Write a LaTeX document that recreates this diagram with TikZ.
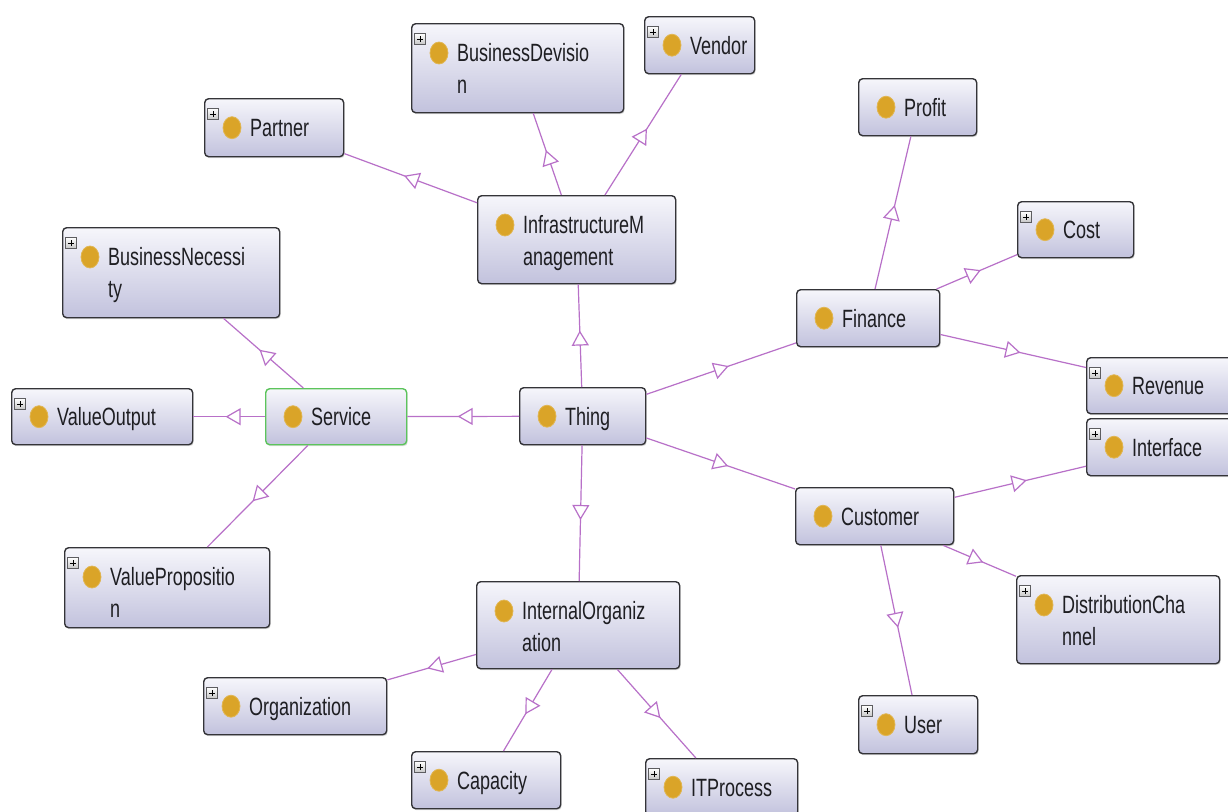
\documentclass[tikz,border=0pt]{standalone}
\usepackage{fontspec}
\setmainfont{Liberation Sans}[FakeStretch=0.72]
\usetikzlibrary{arrows.meta,decorations.markings,shapes.geometric,shadows}
\definecolor{boxtop}{RGB}{246,246,251}
\definecolor{boxbot}{RGB}{194,194,221}
\definecolor{boxline}{RGB}{52,52,56}
\definecolor{svcline}{RGB}{92,196,92}
\definecolor{edgecol}{RGB}{184,112,200}
\definecolor{dotcol}{RGB}{218,164,40}
\definecolor{txtcol}{RGB}{30,30,34}
\tikzset{
  cbox/.style={draw=boxline, line width=1.4pt, rounded corners=4pt,
    top color=boxtop, bottom color=boxbot, inner sep=0pt, anchor=north west,
    drop shadow={shadow xshift=1pt, shadow yshift=-1.5pt, opacity=0.25}},
  svcbox/.style={cbox, draw=svcline},
  odot/.style={ellipse, fill=dotcol, draw=dotcol!80!white, line width=0.8pt,
    minimum width=18pt, minimum height=22pt, inner sep=0pt},
  otext/.style={anchor=base west, inner sep=0pt, text=txtcol,
    font=\fontsize{25}{30}\selectfont},
  plusbox/.style={draw=boxline!80, line width=0.6pt, top color=white, bottom color=gray!45,
    minimum size=11pt, inner sep=0pt,
    path picture={\draw[black, line width=1pt]
      ([xshift=-3.2pt]path picture bounding box.center) -- ([xshift=3.2pt]path picture bounding box.center)
      ([yshift=-3.2pt]path picture bounding box.center) -- ([yshift=3.2pt]path picture bounding box.center);}},
  edge/.style={draw=edgecol, line width=1.2pt, postaction={decorate},
    decoration={markings, mark=at position 0.55 with {\arrow[edgecol]{Triangle[fill=white, length=15pt, width=17pt]}}}}
}
\newcommand\owlone[7][cbox]{%
  \node[#1, minimum width=#5pt, minimum height=#6pt] (#2) at (#3,#4) {};
  \node[odot] (#2-dot) at ([xshift=28pt]#2.west) {};
  \node[otext] (#2-txt) at ([xshift=46pt,yshift=-9pt]#2.west) {#7};
}
\newcommand\owltwo[8][cbox]{%
  \node[#1, minimum width=#5pt, minimum height=#6pt] (#2) at (#3,#4) {};
  \node[odot] (#2-dot) at ([xshift=28pt,yshift=-30pt]#2.north west) {};
  \node[otext] (#2-txta) at ([xshift=46pt,yshift=-38pt]#2.north west) {#7};
  \node[otext] (#2-txtb) at ([xshift=46pt,yshift=-70pt]#2.north west) {#8};
}
\newcommand\owlplus[1]{%
  \node[plusbox] (#1-plus) at ([xshift=9pt,yshift=-16pt]#1.north west) {};
}
\begin{document}
\begin{tikzpicture}[x=1pt,y=-1pt]
\useasboundingbox (0,0) rectangle (1228,811);
\clip (0,0) rectangle (1228,811);
\fill[white] (0,0) rectangle (1228,811);

% classes
\owlone{partner}{204}{98}{139}{58}{Partner}\owlplus{partner}
\owltwo{busdev}{411}{23}{212}{89}{BusinessDevisio}{n}\owlplus{busdev}
\owlone{vendor}{644}{16}{110}{57}{Vendor}\owlplus{vendor}
\owltwo{infra}{477}{195}{198}{88}{InfrastructureM}{anagement}
\owltwo{busnec}{62}{227}{217}{90}{BusinessNecessi}{ty}\owlplus{busnec}
\owlone{valueout}{11}{388}{181}{56}{ValueOutput}\owlplus{valueout}
\owlone[svcbox]{service}{265}{388}{141}{56}{Service}
\owlone{thing}{519}{387}{126}{57}{Thing}
\owltwo{valueprop}{64}{547}{205}{80}{ValuePropositio}{n}\owlplus{valueprop}
\owlone{profit}{858}{78}{118}{57}{Profit}
\owlone{cost}{1017}{201}{116}{56}{Cost}\owlplus{cost}
\owlone{finance}{796}{289}{143}{57}{Finance}
\owlone{revenue}{1086}{357}{160}{56}{Revenue}\owlplus{revenue}
\owlone{interface}{1086}{418}{160}{57}{Interface}\owlplus{interface}
\owlone{customer}{795}{487}{158}{57}{Customer}
\owltwo{distchan}{1016}{575}{203}{88}{DistributionCha}{nnel}\owlplus{distchan}
\owlone{user}{858}{695}{119}{58}{User}\owlplus{user}
\owltwo{intorg}{476}{581}{203}{87}{InternalOrganiz}{ation}
\owlone{organization}{203}{677}{183}{57}{Organization}\owlplus{organization}
\owlone{capacity}{411}{751}{149}{57}{Capacity}\owlplus{capacity}
\owlone{itprocess}{645}{758}{152}{57}{ITProcess}\owlplus{itprocess}

% subclass links
\draw[edge] (infra) -- (partner);
\draw[edge] (infra) -- (busdev);
\draw[edge] (infra) -- (vendor);
\draw[edge] (thing) -- (infra);
\draw[edge] (thing) -- (service);
\draw[edge] (service) -- (valueout);
\draw[edge] (service) -- (busnec);
\draw[edge] (service) -- (valueprop);
\draw[edge] (thing) -- (finance);
\draw[edge] (thing) -- (customer);
\draw[edge] (thing) -- (intorg);
\draw[edge] (finance) -- (profit);
\draw[edge] (finance) -- (cost);
\draw[edge] (finance) -- (revenue);
\draw[edge] (customer) -- (interface);
\draw[edge] (customer) -- (distchan);
\draw[edge] (customer) -- (user);
\draw[edge] (intorg) -- (organization);
\draw[edge] (intorg) -- (capacity);
\draw[edge] (intorg) -- (itprocess);
\end{tikzpicture}
\end{document}
